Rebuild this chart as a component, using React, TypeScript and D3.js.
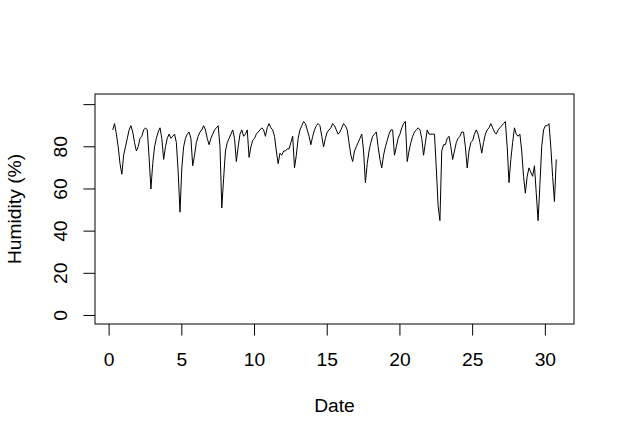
import React from "react";
import * as d3 from "d3";

// Time grid: day of month, 3-hourly readings
const startDay = 0.25;
const stepDay = 0.125;

// Relative humidity (%), 8 readings per row
const humidity: number[] = [
  88, 91, 86, 80, 72, 67, 76, 80,
  84, 88, 90, 87, 82, 78, 80, 84,
  85, 88, 89, 88, 75, 60, 72, 80,
  84, 87, 89, 84, 74, 80, 84, 86,
  84, 85, 86, 82, 68, 49, 70, 80,
  84, 86, 87, 84, 71, 76, 82, 85,
  87, 88, 90, 88, 84, 81, 84, 86,
  88, 89, 90, 80, 51, 65, 78, 82,
  84, 86, 88, 84, 73, 80, 86, 88,
  85, 86, 88, 75, 80, 83, 84, 86,
  87, 88, 89, 88, 85, 89, 91, 89,
  88, 85, 78, 72, 77, 76, 78, 78,
  79, 79, 82, 85, 70, 76, 84, 88,
  90, 92, 91, 88, 85, 81, 85, 88,
  90, 91, 90, 85, 80, 84, 87, 88,
  89, 91, 90, 88, 86, 87, 89, 91,
  90, 88, 82, 76, 73, 78, 80, 82,
  84, 86, 78, 63, 72, 78, 82, 85,
  86, 87, 80, 74, 70, 76, 80, 83,
  86, 88, 88, 76, 80, 84, 86, 89,
  91, 92, 73, 78, 82, 85, 87, 88,
  89, 88, 84, 76, 82, 88, 86, 86,
  86, 86, 70, 52, 45, 78, 81, 81,
  84, 85, 80, 74, 78, 82, 84, 85,
  87, 87, 80, 70, 78, 82, 83, 86,
  88, 86, 82, 77, 82, 86, 88, 89,
  91, 89, 87, 86, 88, 89, 90, 91,
  92, 80, 63, 74, 82, 89, 86, 85,
  86, 78, 66, 58, 66, 70, 68, 66,
  71, 58, 45, 62, 80, 88, 90, 90,
  91, 80, 66, 54, 74,
];

const xTicks = [0, 5, 10, 15, 20, 25, 30];
const yTicks = [0, 20, 40, 60, 80, 100];
const yTickLabels = ["0", "20", "40", "60", "80", ""];
const yLimit: [number, number] = [0, 101];
const xLabel = "Date";
const yLabel = "Humidity (%)";

const W = 623;
const H = 442;
const LINE = 23.1;
const box = { left: 95, right: 574, top: 94, bottom: 324 };
const FONT = 19.25;

export default function App() {
  const days = humidity.map((_, i) => startDay + i * stepDay);
  const xr = d3.extent(days) as [number, number];
  const xPad = (xr[1] - xr[0]) * 0.04;
  const yPad = (yLimit[1] - yLimit[0]) * 0.04;
  const x = d3.scaleLinear().domain([xr[0] - xPad, xr[1] + xPad]).range([box.left, box.right]);
  const y = d3.scaleLinear().domain([yLimit[0] - yPad, yLimit[1] + yPad]).range([box.bottom, box.top]);
  const line = d3
    .line<number>()
    .x((_, i) => x(days[i]))
    .y((d) => y(d));
  const tick = LINE * 0.5;
  const font = "'Liberation Sans', Arial, Helvetica, sans-serif";
  return (
    <svg
      width={W}
      height={H}
      style={{ position: "absolute", left: 0, top: 0, background: "#fff" }}
      fontFamily={font}
      fontSize={FONT}
    >
      <rect x={0} y={0} width={W} height={H} fill="#fff" />
      <path d={line(humidity) || ""} fill="none" stroke="#000" strokeWidth={1} />
      <rect
        x={box.left}
        y={box.top}
        width={box.right - box.left}
        height={box.bottom - box.top}
        fill="none"
        stroke="#000"
        strokeWidth={1}
      />
      {xTicks.map((t) => (
        <g key={"x" + t}>
          <line x1={x(t)} x2={x(t)} y1={box.bottom} y2={box.bottom + tick} stroke="#000" />
          <text x={x(t)} y={box.bottom + 1.8 * LINE} textAnchor="middle" fill="#000">
            {t}
          </text>
        </g>
      ))}
      {yTicks.map((t, i) => (
        <g key={"y" + t}>
          <line x1={box.left - tick} x2={box.left} y1={y(t)} y2={y(t)} stroke="#000" />
          <text
            transform={`translate(${box.left - 1.2 * LINE},${y(t)}) rotate(-90)`}
            textAnchor="middle"
            fill="#000"
          >
            {yTickLabels[i]}
          </text>
        </g>
      ))}
      <text x={(box.left + box.right) / 2} y={box.bottom + 3.8 * LINE} textAnchor="middle" fill="#000">
        {xLabel}
      </text>
      <text
        transform={`translate(${box.left - 3.2 * LINE},${(box.top + box.bottom) / 2}) rotate(-90)`}
        textAnchor="middle"
        fill="#000"
      >
        {yLabel}
      </text>
    </svg>
  );
}
